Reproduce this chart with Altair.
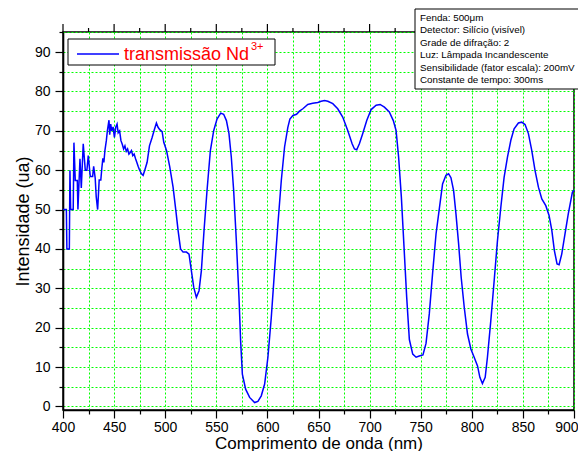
import altair as alt
import pandas as pd

# ---------------- data ----------------
wavelength = [
    400, 403.3, 403.8, 406.2, 406.8, 407.5, 410, 410.7, 412, 414, 414.6, 416.6, 417.9, 419.8,
    421.8, 423.4, 424.7, 426.7, 429, 430, 431.5, 432.5, 433.9, 435.4, 437, 438, 439, 440, 441,
    442.4, 443.4, 444.4, 445, 445.7, 446.7, 447.7, 449, 450.3, 451.6, 452.9, 454, 455.4, 456.7,
    458, 459.3, 460.6, 461.9, 463.2, 464.5, 465.8, 467, 468.3, 469.6, 471, 472.2, 473.5, 474.8,
    476.8, 478.4, 480, 482.3, 484.6, 487.2, 489.5, 491.4, 493, 494.7, 497, 498.6, 501.3, 504.5,
    507.7, 510.4, 512.6, 515, 517.5, 520.8, 523.3, 525.6, 527.9, 530.5, 533.1, 535.4, 538,
    540.9, 544.2, 547.5, 550.7, 554.3, 557.2, 559.9, 562.4, 564.7, 567, 569.6, 572.2, 573.8,
    575.5, 578.7, 582.6, 587.5, 590.7, 594, 597.3, 600.5, 603.8, 607, 610.3, 613.6, 616.8, 620,
    622, 625, 628.5, 631.4, 634.7, 639.5, 644.4, 649.3, 652.6, 655.9, 659.1, 664, 668.8, 673.7,
    678.6, 682.9, 685.2, 687.4, 690, 693.3, 697.2, 701.5, 706.4, 710.3, 714.5, 719.3, 723.2,
    725.9, 728.4, 731.1, 733.7, 736.3, 738.9, 742.2, 745.5, 748.6, 752.2, 755.2, 758.4, 761.7,
    765, 768.2, 771.4, 774.7, 777.3, 779.6, 782.2, 784.5, 787.1, 789.6, 792.6, 795.8, 799.1,
    802.3, 805.6, 807.9, 810.4, 813.1, 815.3, 818.6, 821.9, 825.1, 828.4, 831.6, 834.9, 838.2,
    841.4, 845.6, 848.9, 852.1, 855.4, 858.7, 861.9, 865.2, 868.5, 872.4, 875.6, 878.3, 880.8,
    883.4, 885.4, 888, 891.2, 894.4, 898.4, 900,
]
intensity = [
    50, 50, 40, 40, 60, 50, 50, 67, 57.4, 57.4, 50, 62.9, 55.5, 66.7,
    60, 60, 63.7, 58.4, 58.4, 61, 58, 53.3, 50, 57.5, 57.5, 60.5, 63, 62, 65,
    67.5, 70, 71.7, 72.7, 69, 71.7, 70, 71, 68.3, 70.9, 71.7, 69.5, 70, 67.5,
    66.6, 65.4, 66.2, 64.8, 65.4, 64.1, 64.5, 65, 63.7, 64.1, 62.9, 62, 61, 60.1,
    59.1, 58.7, 60, 62, 66.2, 68.3, 70.4, 72, 70.9, 70.3, 69.8, 67.1, 65, 60.8,
    55.7, 49.8, 44.7, 40, 39.2, 39.2, 38.7, 34.5, 30.3, 27.7, 29.4, 34.5, 44.7,
    54.8, 65, 70.1, 73, 74.5, 74.2, 72.6, 69.3, 63.3, 54.8, 42.1, 27.7, 16.7,
    8.2, 4.4, 2.3, 1, 1.3, 2.7, 5.7, 12.5, 22.6, 34.5, 46.4, 57.4, 65.9, 70.9,
    73, 73.9, 74.2, 75, 75.6, 76.7, 77, 77.2, 77.5, 77.7, 77.5, 76.9, 75.6, 73.5,
    70.1, 66.7, 65.4, 65.2, 66.7, 69.3, 72.6, 75.4, 76.5, 76.7, 76, 74.8, 72.6,
    70.1, 63.3, 53.1, 40.4, 27.7, 17, 13.3, 12.5, 12.8, 13.1, 16, 23.5, 34,
    43.8, 50.2, 56.5, 58.7, 59.1, 58.1, 54.8, 48.9, 41.3, 32.8, 25.2, 18.4, 14.6,
    12.5, 10.3, 7.4, 5.8, 7.4, 12.5, 21.8, 32, 42.1, 50.6, 58.2, 63.3, 67.6,
    70.5, 72, 72.2, 71.6, 69.3, 65, 59.9, 55.7, 52.7, 51, 48.5, 44.7, 39.6,
    36.2, 36, 38.7, 43.8, 48.9, 54.4, 55,
]

x_ticks = list(range(400, 901, 25))
y_ticks = list(range(0, 96, 5))
top_major = list(range(400, 901, 50))
top_minor = list(range(425, 900, 50))

x_title = "Comprimento de onda (nm)"
y_title = "Intensidade (ua)"
legend_label = "transmissão Nd"
legend_sup = "3+"
info_lines = [
    "Fenda: 500\u03bcm",
    "Detector: Silício (visível)",
    "Grade de difração: 2",
    "Luz: Lâmpada Incandescente",
    "Sensibilidade (fator escala): 200mV",
    "Constante de tempo: 300ms",
]

# ---------------- chart ----------------
FONT = "Liberation Sans"
W, H = 511, 378

df = pd.DataFrame({"wl": wavelength, "I": intensity})
one = pd.DataFrame({"k": [0]})

x_scale = alt.Scale(domain=[400, 900], nice=False, zero=False)
y_scale = alt.Scale(domain=[-0.9, 95.1], nice=False, zero=False)

x_axis = alt.Axis(
    values=x_ticks,
    labelExpr="datum.value % 50 === 0 ? datum.label : ''",
    tickSize={"condition": {"test": "datum.value % 50 === 0", "value": 8}, "value": 4},
    labelAlign={"condition": {"test": "datum.value === 900", "value": "right"}, "value": "center"},
    labelOffset={"condition": {"test": "datum.value === 900", "value": 4}, "value": 0},
    grid=True, gridColor="#00ff00", gridDash=[2, 2], gridWidth=1,
    domainColor="black", domainWidth=1.6, tickColor="black", tickWidth=1.2,
    labelFont=FONT, labelFontSize=14, labelColor="black", labelPadding=2.5,
    labelFlush=False, labelOverlap=False,
    title=x_title, titleFont=FONT, titleFontSize=17, titleFontWeight="normal",
    titleColor="black", titleY=38, titleBaseline="alphabetic",
)
y_axis = alt.Axis(
    values=y_ticks,
    labelExpr="datum.value % 10 === 0 ? datum.label : ''",
    tickSize={"condition": {"test": "datum.value % 10 === 0", "value": 8}, "value": 4},
    grid=True, gridColor="#00ff00", gridDash=[2, 2], gridWidth=1,
    domainColor="black", domainWidth=1.6, tickColor="black", tickWidth=1.2,
    labelFont=FONT, labelFontSize=14, labelColor="black", labelPadding=5,
    labelFlush=False, labelOverlap=False,
    title=y_title, titleFont=FONT, titleFontSize=18, titleFontWeight="normal",
    titleColor="black", titleX=-35, titleY=H / 2, titleBaseline="alphabetic",
)

line = alt.Chart(df).mark_line(color="#0000ff", strokeWidth=1.5).encode(
    x=alt.X("wl:Q", scale=x_scale, axis=x_axis),
    y=alt.Y("I:Q", scale=y_scale, axis=y_axis),
)

top_maj = alt.Chart(pd.DataFrame({"wl": top_major})).mark_rule(color="black", strokeWidth=1.2).encode(
    x=alt.X("wl:Q", scale=x_scale, axis=x_axis), y=alt.value(0), y2=alt.value(-8)
)
top_min = alt.Chart(pd.DataFrame({"wl": top_minor})).mark_rule(color="black", strokeWidth=1.2).encode(
    x=alt.X("wl:Q", scale=x_scale, axis=x_axis), y=alt.value(0), y2=alt.value(-4)
)

leg_box = alt.Chart(one).mark_rect(fill="white", stroke="black", strokeWidth=1).encode(
    x=alt.value(5), x2=alt.value(212), y=alt.value(7), y2=alt.value(33)
)
leg_line = alt.Chart(one).mark_rule(color="#0000ff", strokeWidth=1.5).encode(
    x=alt.value(14), x2=alt.value(56), y=alt.value(22)
)
leg_text = alt.Chart(one).mark_text(
    align="left", baseline="alphabetic", font=FONT, fontSize=18, color="#ff0000"
).encode(x=alt.value(61), y=alt.value(27.5), text=alt.value(legend_label))
leg_sup = alt.Chart(one).mark_text(
    align="left", baseline="alphabetic", font=FONT, fontSize=11, color="#ff0000"
).encode(x=alt.value(188), y=alt.value(18), text=alt.value(legend_sup))

info_box = alt.Chart(one).mark_rect(fill="white", stroke="black", strokeWidth=1).encode(
    x=alt.value(352), x2=alt.value(540), y=alt.value(-23), y2=alt.value(57)
)
info_layers = []
for i, txt in enumerate(info_lines):
    info_layers.append(
        alt.Chart(one).mark_text(
            align="left", baseline="alphabetic", font=FONT, fontSize=9.8, color="black"
        ).encode(x=alt.value(357), y=alt.value(-11 + 12.4 * i), text=alt.value(txt))
    )

chart = alt.layer(
    line, top_maj, top_min, leg_box, leg_line, leg_text, leg_sup, info_box, *info_layers
).properties(
    width=W, height=H,
    autosize=alt.AutoSizeParams(type="none"),
    padding={"left": 55, "top": 24, "right": 4, "bottom": 41},
    background="white",
).configure_view(stroke="black", strokeWidth=1.5)

chart.save("out.html", embed_options={"renderer": "svg", "actions": False})
